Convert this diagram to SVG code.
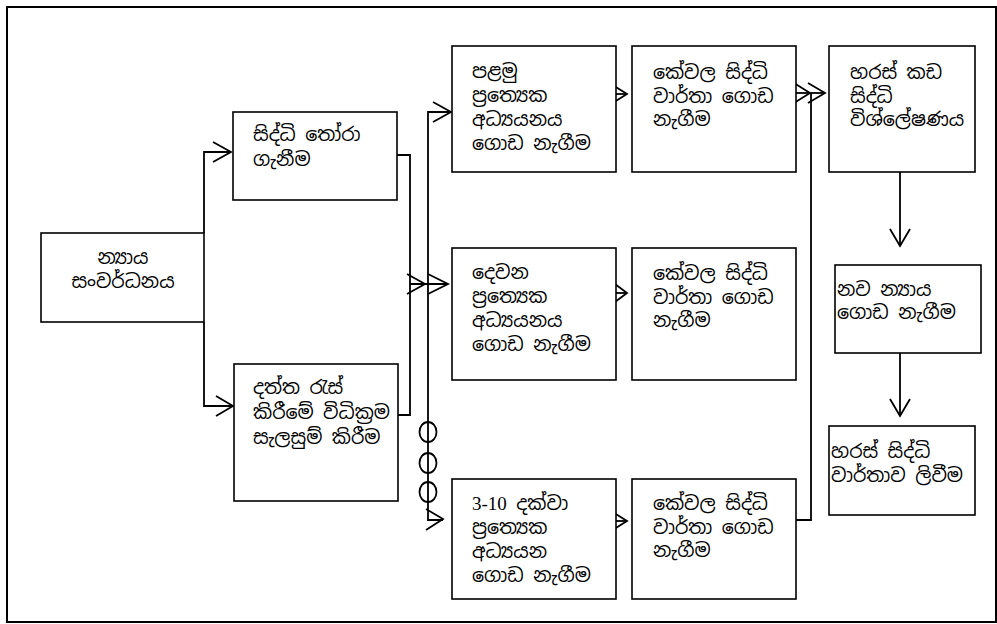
<svg xmlns="http://www.w3.org/2000/svg" width="997" height="624" viewBox="0 0 997 624">
<style>
.box{fill:#fff;stroke:#000;stroke-width:1.6}
.ln{fill:none;stroke:#000;stroke-width:1.8}
.ah{fill:none;stroke:#000;stroke-width:1.8;stroke-linejoin:miter}
.t{font-family:"Noto Sans Sinhala","Noto Serif Sinhala","Iskoola Pota","Noto Sans","Liberation Serif",serif;font-size:19px;fill:#000}
.n{font-family:"Liberation Serif",serif}
</style>
<rect x="0" y="0" width="997" height="624" fill="#fff"/>
<rect x="7" y="7" width="989" height="615" fill="none" stroke="#000" stroke-width="2"/>

<g id="connectors">
  <path class="ln" d="M204,233 V152 H231"/>
  <polyline class="ah" points="213,142 231,152 213,162"/>
  <path class="ln" d="M204,322 V406 H233"/>
  <polyline class="ah" points="216,396 233,406 216,416"/>
  <path class="ln" d="M397,155 H410 V415 H398"/>
  <path class="ln" d="M410,284 H448"/>
  <polyline class="ah" points="407,274 425,284 407,294"/>
  <polyline class="ah" points="428,274 448,284 428,294"/>
  <path class="ln" d="M451,112 H428 V520 H443"/>
  <polyline class="ah" points="433,102 451,112 433,122"/>
  <polyline class="ah" points="426,509 443,519 426,530"/>
  <ellipse class="ln" cx="428" cy="432" rx="8.5" ry="10"/>
  <ellipse class="ln" cx="428" cy="463" rx="8.5" ry="10"/>
  <ellipse class="ln" cx="428" cy="492" rx="8.5" ry="10"/>
  <path class="ln" d="M616,94 H627"/>
  <polyline class="ah" points="611,84 627,94 611,104"/>
  <path class="ln" d="M616,293 H627"/>
  <polyline class="ah" points="611,281 627,293 611,305"/>
  <path class="ln" d="M616,521 H627"/>
  <polyline class="ah" points="611,511 627,521 611,531"/>
  <path class="ln" d="M796,93 H825"/>
  <polyline class="ah" points="794,83 810,93 794,103"/>
  <polyline class="ah" points="808,83 825,93 808,103"/>
  <path class="ln" d="M811,93 V520 H796"/>
  <path class="ln" d="M900,172 V246"/>
  <polyline class="ah" points="890,229 900,246 910,229"/>
  <path class="ln" d="M900,353 V416"/>
  <polyline class="ah" points="890,399 900,416 910,399"/>
</g>

<g id="n1">
  <rect class="box" x="41" y="233" width="163" height="89"/>
  <text class="t" x="123" y="264" text-anchor="middle">න්‍යාය</text>
  <text class="t" x="123" y="288" text-anchor="middle">සංවර්ධනය</text>
</g>
<g id="n2">
  <rect class="box" x="233" y="112" width="164" height="88"/>
  <text class="t" x="253" y="141">සිද්ධි තෝරා</text>
  <text class="t" x="253" y="166">ගැනීම</text>
</g>
<g id="n3">
  <rect class="box" x="234" y="364" width="164" height="137"/>
  <text class="t" x="253" y="394">දත්ත රැස්</text>
  <text class="t" x="253" y="419">කිරීමේ විධික්‍රම</text>
  <text class="t" x="253" y="444">සැලසුම් කිරීම</text>
</g>
<g id="s1">
  <rect class="box" x="452" y="46" width="164" height="126"/>
  <text class="t" x="472" y="78">පළමු</text>
  <text class="t" x="472" y="102">ප්‍රත්‍යෙක</text>
  <text class="t" x="472" y="126">අධ්‍යයනය</text>
  <text class="t" x="472" y="150">ගොඩ නැගීම</text>
</g>
<g id="s2">
  <rect class="box" x="452" y="248" width="164" height="132"/>
  <text class="t" x="472" y="279">දෙවන</text>
  <text class="t" x="472" y="303">ප්‍රත්‍යෙක</text>
  <text class="t" x="472" y="327">අධ්‍යයනය</text>
  <text class="t" x="472" y="351">ගොඩ නැගීම</text>
</g>
<g id="s3">
  <rect class="box" x="452" y="479" width="164" height="120"/>
  <text class="t" x="472" y="510"><tspan class="n">3-10</tspan> දක්වා</text>
  <text class="t" x="472" y="534">ප්‍රත්‍යෙක</text>
  <text class="t" x="472" y="558">අධ්‍යයන</text>
  <text class="t" x="472" y="582">ගොඩ නැගීම</text>
</g>
<g id="r1">
  <rect class="box" x="632" y="46" width="164" height="126"/>
  <text class="t" x="653" y="79">කේවල සිද්ධි</text>
  <text class="t" x="653" y="103">වාර්තා ගොඩ</text>
  <text class="t" x="653" y="126">නැගීම</text>
</g>
<g id="r2">
  <rect class="box" x="632" y="248" width="164" height="132"/>
  <text class="t" x="653" y="280">කේවල සිද්ධි</text>
  <text class="t" x="653" y="304">වාර්තා ගොඩ</text>
  <text class="t" x="653" y="327">නැගීම</text>
</g>
<g id="r3">
  <rect class="box" x="632" y="479" width="164" height="120"/>
  <text class="t" x="653" y="510">කේවල සිද්ධි</text>
  <text class="t" x="653" y="534">වාර්තා ගොඩ</text>
  <text class="t" x="653" y="557">නැගීම</text>
</g>
<g id="x1">
  <rect class="box" x="829" y="46" width="146" height="126"/>
  <text class="t" x="850" y="79">හරස් කඩ</text>
  <text class="t" x="850" y="103">සිද්ධි</text>
  <text class="t" x="850" y="126">විශ්ලේෂණය</text>
</g>
<g id="x2">
  <rect class="box" x="835" y="265" width="146" height="88"/>
  <text class="t" x="837" y="296">නව න්‍යාය</text>
  <text class="t" x="837" y="319">ගොඩ නැගීම</text>
</g>
<g id="x3">
  <rect class="box" x="829" y="426" width="146" height="89"/>
  <text class="t" x="831" y="458">හරස් සිද්ධි</text>
  <text class="t" x="831" y="482">වාර්තාව ලිවීම</text>
</g>
</svg>
